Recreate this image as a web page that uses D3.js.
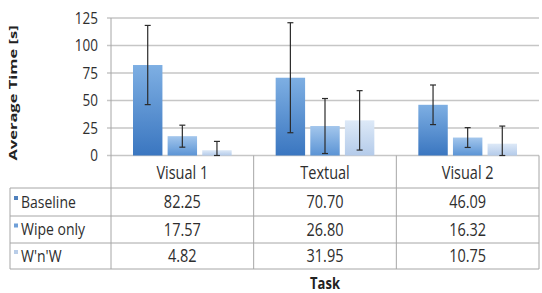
<!DOCTYPE html>
<html>
<head>
<meta charset="utf-8">
<script src="https://cdn.jsdelivr.net/npm/d3@7"></script>
<style>
  body{ margin:0; padding:0; background:#fff; }
  svg{ display:block; font-family:"Open Sans", "Liberation Sans", sans-serif; }
</style>
</head>
<body>
<svg id="chart" width="542" height="293"></svg>
<script>
  // данные
  let tasks   = ['Visual 1', 'Textual', 'Visual 2'];
  let series  = ['Baseline', 'Wipe only', "W'n'W"];
  let baseline = [82.25, 70.70, 46.09];
  let wipeOnly = [17.57, 26.80, 16.32];
  let wnw      = [4.82, 31.95, 10.75];
  let errBaseline = [36, 50, 18];
  let errWipe     = [10, 25, 9];
  let errWnw      = [8, 27, 16];
  let yTicks = [0, 25, 50, 75, 100, 125];

  let values = [baseline, wipeOnly, wnw];
  let errors = [errBaseline, errWipe, errWnw];
  let colors = [
    { hi:'#7eafe3', lo:'#3a76c0', key:'#4f81bd' },
    { hi:'#a3c6ec', lo:'#5b94d5', key:'#6f9fd8' },
    { hi:'#dde9f7', lo:'#b4cbea', key:'#b9cde8' }
  ];

  let svg = d3.select('#chart');
  let plotL = 111, plotR = 539, plotT = 18, zeroY = 155.5;
  let tableX = 10, rowTops = [155.5, 188, 216, 243, 269];
  let stretch = 1.2; // текст в оригинале вытянут по вертикали

  let x = d3.scaleBand().domain(tasks).range([plotL, plotR]);
  let xs = d3.scaleBand().domain(series).range([22, x.bandwidth() - 22]).paddingInner(0.15);
  let y = d3.scaleLinear().domain([0, 125]).range([zeroY, plotT]);

  // текст с вертикальным растяжением
  function label(sel, tx, ty, size) {
    return sel.append('text')
      .attr('transform', `translate(${tx},${ty}) scale(1,${stretch})`)
      .attr('dy', '0.35em')
      .attr('font-size', size)
      .attr('fill', '#2e2e2e');
  }

  // градиенты
  let defs = svg.append('defs');
  colors.forEach((c, i) => {
    let g = defs.append('linearGradient').attr('id', 'g' + i)
      .attr('x1', 0).attr('y1', 0).attr('x2', 0).attr('y2', 1);
    g.append('stop').attr('offset', '0%').attr('stop-color', c.hi);
    g.append('stop').attr('offset', '100%').attr('stop-color', c.lo);
  });

  // сетка
  svg.append('g')
    .selectAll('line')
    .data(yTicks)
    .enter()
    .append('line')
      .attr('x1', plotL - 4).attr('x2', plotR)
      .attr('y1', d => y(d)).attr('y2', d => y(d))
      .attr('stroke', '#c6c6c6')
      .attr('stroke-width', 1.5);

  // подписи оси Y
  yTicks.forEach(t => {
    label(svg, 98, y(t), 13.5).attr('text-anchor', 'end').text(t);
  });

  svg.append('text')
    .attr('transform', `translate(13,93) rotate(-90) scale(1.5,1)`)
    .attr('dy', '0.35em')
    .attr('text-anchor', 'middle')
    .attr('font-size', 11)
    .attr('font-weight', 'bold')
    .attr('fill', '#222')
    .text('Average Time [s]');

  // столбцы
  series.forEach((s, si) => {
    svg.append('g')
      .selectAll('rect')
      .data(tasks)
      .enter()
      .append('rect')
        .attr('x', d => x(d) + xs(s))
        .attr('y', (d, i) => y(values[si][i]))
        .attr('width', xs.bandwidth())
        .attr('height', (d, i) => zeroY - y(values[si][i]))
        .attr('fill', `url(#g${si})`);
  });

  // погрешности
  series.forEach((s, si) => {
    tasks.forEach((t, i) => {
      let cx = x(t) + xs(s) + xs.bandwidth() / 2;
      let v = values[si][i], e = errors[si][i];
      let y1 = y(v + e), y2 = y(Math.max(0, v - e));
      let g = svg.append('g').attr('stroke', '#2b2b2b').attr('stroke-width', 1.2);
      g.append('line').attr('x1', cx).attr('x2', cx).attr('y1', y1).attr('y2', y2);
      g.append('line').attr('x1', cx - 3).attr('x2', cx + 3).attr('y1', y1).attr('y2', y1);
      g.append('line').attr('x1', cx - 3).attr('x2', cx + 3).attr('y1', y2).attr('y2', y2);
    });
  });

  // таблица
  let tbl = svg.append('g').attr('stroke', '#a6a6a6').attr('stroke-width', 1).attr('fill', 'none');
  tbl.append('line').attr('x1', plotL).attr('x2', plotL).attr('y1', plotT).attr('y2', rowTops[4]);
  tbl.append('line').attr('x1', plotR).attr('x2', plotR).attr('y1', rowTops[0]).attr('y2', rowTops[4]);
  tbl.append('line').attr('x1', tableX).attr('x2', tableX).attr('y1', rowTops[1]).attr('y2', rowTops[4]);
  tasks.slice(1).forEach(t => {
    tbl.append('line').attr('x1', x(t)).attr('x2', x(t)).attr('y1', rowTops[0]).attr('y2', rowTops[4]);
  });
  rowTops.slice(1).forEach(r => {
    tbl.append('line').attr('x1', tableX).attr('x2', plotR).attr('y1', r).attr('y2', r);
  });

  tasks.forEach(t => {
    label(svg, x(t) + x.bandwidth() / 2, (rowTops[0] + rowTops[1]) / 2 + 1, 14.5)
      .attr('text-anchor', 'middle').text(t);
  });

  series.forEach((s, si) => {
    let cy = (rowTops[si + 1] + rowTops[si + 2]) / 2;
    svg.append('rect')
      .attr('x', 14).attr('y', cy - 6).attr('width', 4).attr('height', 4)
      .attr('fill', colors[si].key);
    label(svg, 21, cy, 14).text(s);
    tasks.forEach((t, i) => {
      label(svg, x(t) + x.bandwidth() / 2, cy, 14.5)
        .attr('text-anchor', 'middle')
        .text(values[si][i].toFixed(2));
    });
  });

  label(svg, (plotL + plotR) / 2, 284, 13)
    .attr('text-anchor', 'middle')
    .attr('font-weight', 'bold')
    .attr('fill', '#222')
    .text('Task');
</script>
</body>
</html>
